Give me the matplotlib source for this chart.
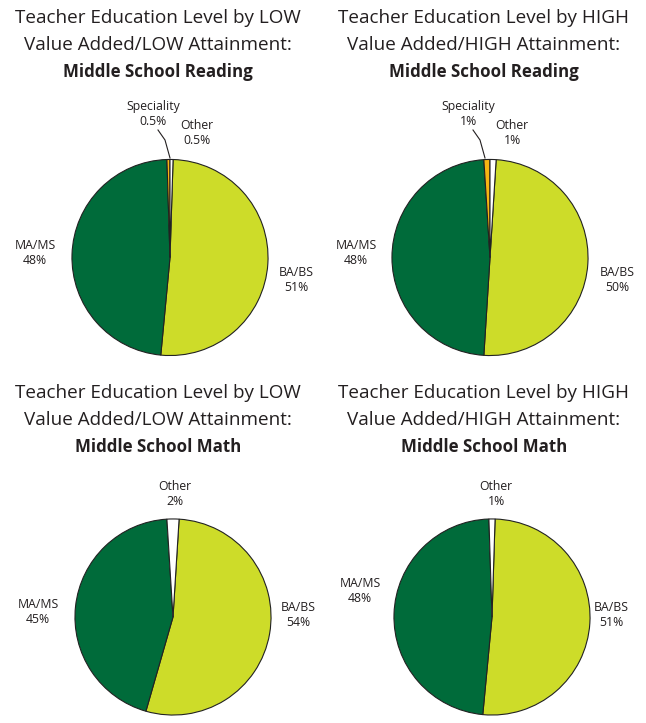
import matplotlib.pyplot as plt

plt.rcParams['font.family'] = ['Open Sans', 'DejaVu Sans']

W, H = 646, 723

# slice order (clockwise from 12 o'clock)
reading_labels = ["BA/BS", "MA/MS", "Speciality", "Other"]
math_labels = ["BA/BS", "MA/MS", "Other"]

low_reading = [51, 48, 0.5, 0.5]
high_reading = [50, 48, 1, 1]
low_math = [54, 45, 2]
high_math = [51, 48, 1]

low_reading_text = ["51%", "48%", "0.5%", "0.5%"]
high_reading_text = ["50%", "48%", "1%", "1%"]
low_math_text = ["54%", "45%", "2%"]
high_math_text = ["51%", "48%", "1%"]

COLORS = {"BA/BS": "#cddc29", "MA/MS": "#006b3a",
          "Speciality": "#f7b512", "Other": "#ffffff"}

fig = plt.figure(figsize=(W / 100, H / 100), dpi=100)


def draw_pie(cx, cy, r, values, names, texts, label_px, leader=None):
    ax = fig.add_axes([(cx - r) / W, 1 - (cy + r) / H, 2 * r / W, 2 * r / H])
    # small slices straddle 12 o'clock
    small = sum(values[2:])
    start = 90 - 360 * small / sum(values) / 2
    ax.pie(values, colors=[COLORS[n] for n in names], startangle=start,
           counterclock=False, radius=1,
           wedgeprops=dict(edgecolor="#222222", linewidth=0.8))
    ax.set_xlim(-1.02, 1.02)
    ax.set_ylim(-1.02, 1.02)
    ax.set_aspect("equal")
    ax.axis("off")
    for name, txt in zip(names, texts):
        lx, ly = label_px[name]
        fig.text(lx / W, 1 - ly / H, f"{name}\n{txt}", ha="center", va="center",
                 fontsize=8.8, color="#231f20", linespacing=1.25)
    if leader:
        xs = [p[0] / W for p in leader]
        ys = [1 - p[1] / H for p in leader]
        fig.add_artist(plt.Line2D(xs, ys, color="#231f20", lw=0.8))


def draw_title(x, y, level, subject):
    fig.text(x / W, 1 - y / H, f"Teacher Education Level by {level}",
             ha="center", va="center", fontsize=13.6, color="#231f20")
    fig.text(x / W, 1 - (y + 27) / H, f"Value Added/{level} Attainment:",
             ha="center", va="center", fontsize=13.6, color="#231f20")
    fig.text(x / W, 1 - (y + 54) / H, subject, ha="center", va="center",
             fontsize=12.2, fontweight="bold", color="#231f20")


draw_title(158, 18, "LOW", "Middle School Reading")
draw_title(484, 18, "HIGH", "Middle School Reading")
draw_title(158, 393, "LOW", "Middle School Math")
draw_title(484, 393, "HIGH", "Middle School Math")

draw_pie(170, 257.5, 100, low_reading, reading_labels, low_reading_text,
         {"BA/BS": (296, 280), "MA/MS": (35, 253),
          "Speciality": (153, 114), "Other": (197, 133)},
         leader=[(158, 130), (165, 140), (170, 158)])
draw_pie(490, 257.5, 100, high_reading, reading_labels, high_reading_text,
         {"BA/BS": (617, 280), "MA/MS": (356, 253),
          "Speciality": (468, 114), "Other": (512, 133)},
         leader=[(473, 130), (480, 140), (485, 158)])
draw_pie(173, 617, 100, low_math, math_labels, low_math_text,
         {"BA/BS": (298, 615), "MA/MS": (38, 612), "Other": (175, 494)})
draw_pie(492, 617, 100, high_math, math_labels, high_math_text,
         {"BA/BS": (611, 615), "MA/MS": (360, 591), "Other": (496, 494)})

fig.savefig("out.png", dpi=100)
